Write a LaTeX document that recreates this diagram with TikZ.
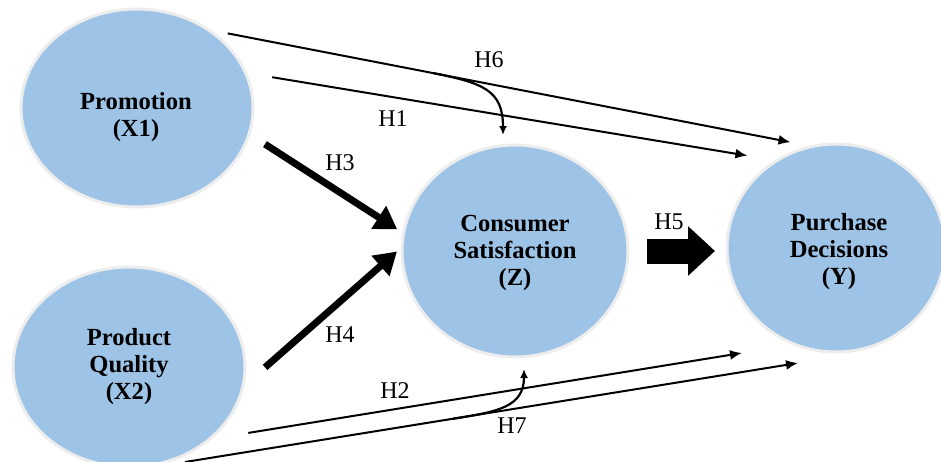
\documentclass[tikz,border=0pt]{standalone}
\usepackage{fontspec}
\setmainfont{Liberation Serif}
\usepackage{tikz}
\usetikzlibrary{arrows.meta,calc,shapes.geometric}
\definecolor{bubblefill}{HTML}{9DC3E6}
\definecolor{bubblering}{HTML}{EDEDED}
\tikzset{%
	bubble/.style     = {draw=bubblering, fill=bubblefill, ellipse, line width=1.5pt, inner sep=0pt, outer sep=0pt},
	bubbletext/.style = {align=center, font=\fontsize{12.3}{13.5}\selectfont\bfseries}, % variable names
	hlabel/.style     = {font=\fontsize{12}{14}\selectfont}, % hypotheses
	thinarrow/.style  = {line width=1pt, -{Latex[length=6pt,width=5pt]}},
	bendarrow/.style  = {line width=1.1pt, -{Latex[length=4.5pt,width=4pt]}},
	thickarrow/.style = {line width=3.5pt, -{Triangle[length=11pt,width=13pt]}},
	blockarrow/.style = {line width=12.5pt, -{Triangle[length=13.5pt,width=24pt]}},
}

\begin{document}
\begin{tikzpicture}[x=0.5pt,y=-0.5pt]
	\useasboundingbox (0,0) rectangle (941,461);
	\clip (0,0) rectangle (941,461);

	\node [bubble, minimum width=116pt, minimum height=99pt] (promo) at (137,108) {};
	\node [bubble, minimum width=116pt, minimum height=100pt] (pq) at (129,367) {};
	\node [bubble, minimum width=113pt, minimum height=106pt] (cons) at (515,251) {};
	\node [bubble, minimum width=109pt, minimum height=104pt] (purch) at (836,248) {};

	\node [bubbletext] (promotext) at ($(promo)+(-1,9)$) {Promotion\\(X1)};
	\node [bubbletext] (pqtext) at (pq) {Product\\Quality\\(X2)};
	\node [bubbletext] (constext) at ($(cons)+(0,2)$) {Consumer\\Satisfaction\\(Z)};
	\node [bubbletext] (purchtext) at ($(purch)+(3,4)$) {Purchase\\Decisions\\(Y)};

	% direct effects
	\draw[thinarrow, shorten <=10.2pt, shorten >=11.2pt] (promo.48) -- (purch.103.3);
	\draw[thinarrow, shorten <=13.6pt, shorten >=15pt] (promo.18.6) -- (purch.124.4);
	\draw[thinarrow, shorten <=19.8pt, shorten >=26.9pt] (pq.-42.9) -- (purch.-113.1);
	\coordinate (lowfrom) at (185,462);
	\coordinate (lowto) at (798,363);
	\draw[thinarrow] (lowfrom) -- (lowto);

	% effects on Z
	\draw[thickarrow, shorten <=9.5pt, shorten >=3.8pt] (promo.-13.4) -- (cons.171.4);
	\draw[thickarrow, shorten <=14.9pt, shorten >=3.4pt] (pq.-10.3) -- (cons.178.8);
	\draw[blockarrow, shorten <=9.5pt, shorten >=6pt] (cons.east) -- (cons.east -| purch.west);

	% mediation
	\coordinate (h6bend) at ($(promo.48)!0.3725!(purch.103.3)$);
	\coordinate (h6end) at ($(cons.north)+(-12,-10)$);
	\draw[bendarrow] (h6bend) .. controls +(50,10) and +(0,-45) .. (h6end);
	\coordinate (h7bend) at ($(lowfrom)!0.4372!(lowto)$);
	\coordinate (h7end) at ($(cons.south)+(9,12)$);
	\draw[bendarrow] (h7bend) .. controls +(45,-7) and +(0,38) .. (h7end);

	\node [hlabel] (h1) at (393,119) {H1};
	\node [hlabel] (h2) at (395,391) {H2};
	\node [hlabel] (h3) at (340,163) {H3};
	\node [hlabel] (h4) at (340,335) {H4};
	\node [hlabel] (h5) at (669,222) {H5};
	\node [hlabel] (h6) at (489,60) {H6};
	\node [hlabel] (h7) at (512,426) {H7};
\end{tikzpicture}
\end{document}
